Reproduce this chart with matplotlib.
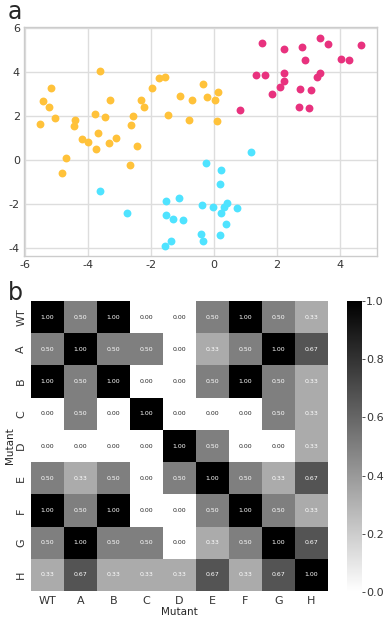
import matplotlib
matplotlib.use("Agg")
import matplotlib.pyplot as plt
import numpy as np
import seaborn as sns

# scatter clusters
yellow_x = [-5.53, -5.45, -5.24, -5.17, -5.07, -4.70, -4.83, -4.43, -4.46, -4.20, -4.00, -3.79,
            -3.70, -3.76, -3.64, -3.47, -3.32, -3.35, -3.13, -2.64, -2.56, -2.66, -2.44, -2.32,
            -2.23, -1.97, -1.74, -1.55, -1.45, -1.09, -0.80, -0.70, -0.35, -0.21, 0.02, 0.12, 0.09]
yellow_y = [1.64, 2.69, 2.40, 3.27, 1.91, 0.09, -0.61, 1.84, 1.55, 0.96, 0.84, 2.08,
            1.25, 0.50, 4.07, 1.95, 2.74, 0.78, 0.99, 1.60, 2.01, -0.24, 0.62, 2.74,
            2.43, 3.27, 3.74, 3.80, 2.05, 2.92, 1.82, 2.72, 3.45, 2.87, 2.72, 3.12, 1.78]

pink_x = [0.82, 1.33, 1.61, 1.52, 1.83, 2.11, 2.22, 2.23, 2.23, 2.71, 2.74, 2.78,
          2.90, 3.03, 3.07, 3.28, 3.37, 3.36, 3.63, 4.02, 4.28, 4.67]
pink_y = [2.28, 3.88, 3.89, 5.35, 2.99, 3.34, 3.98, 3.60, 5.05, 2.42, 3.24, 5.14,
          4.57, 2.36, 3.19, 3.77, 3.97, 5.58, 5.29, 4.62, 4.56, 5.23]

cyan_x = [-3.64, -2.78, -1.52, -1.53, -1.56, -1.36, -1.29, -1.10, -0.98, -0.39, -0.41, -0.34,
          -0.27, -0.03, 0.21, 0.18, 0.21, 0.32, 0.41, 0.37, 0.18, 0.73, 1.17]
cyan_y = [-1.40, -2.40, -1.85, -2.52, -3.91, -3.68, -2.67, -1.75, -2.74, -2.07, -3.39, -3.68,
          -0.14, -2.16, -0.44, -1.11, -2.39, -2.16, -1.96, -2.93, -3.40, -2.20, 0.35]

# heatmap (panel b)
mutants = ["WT", "A", "B", "C", "D", "E", "F", "G", "H"]
sim = [
    [1.00, 0.50, 1.00, 0.00, 0.00, 0.50, 1.00, 0.50, 0.33],
    [0.50, 1.00, 0.50, 0.50, 0.00, 0.33, 0.50, 1.00, 0.67],
    [1.00, 0.50, 1.00, 0.00, 0.00, 0.50, 1.00, 0.50, 0.33],
    [0.00, 0.50, 0.00, 1.00, 0.00, 0.00, 0.00, 0.50, 0.33],
    [0.00, 0.00, 0.00, 0.00, 1.00, 0.50, 0.00, 0.00, 0.33],
    [0.50, 0.33, 0.50, 0.00, 0.50, 1.00, 0.50, 0.33, 0.67],
    [1.00, 0.50, 1.00, 0.00, 0.00, 0.50, 1.00, 0.50, 0.33],
    [0.50, 1.00, 0.50, 0.50, 0.00, 0.33, 0.50, 1.00, 0.67],
    [0.33, 0.67, 0.33, 0.33, 0.33, 0.67, 0.33, 0.67, 1.00],
]

sns.set_style("whitegrid")
plt.rcParams['font.family'] = ['DejaVu Sans']
plt.rcParams['axes.unicode_minus'] = False

fig = plt.figure(figsize=(3.85, 6.19), dpi=100)

# ---- panel a
ax1 = fig.add_axes([0.0623, 0.586, 0.917, 0.370])
ax1.scatter(yellow_x, yellow_y, c='#ffc23a', s=32, linewidths=0)
ax1.scatter(cyan_x, cyan_y, c='#4fe3ff', s=32, linewidths=0)
ax1.scatter(pink_x, pink_y, c='#e8327e', s=32, linewidths=0)
ax1.set_xticks([-6, -4, -2, 0, 2, 4])
ax1.set_yticks([-4, -2, 0, 2, 4, 6])
ax1.tick_params(labelsize=8, colors='#333333', length=0, pad=3)
ax1.grid(color='#dddddd', linewidth=1)
for sp in ax1.spines.values():
    sp.set_color('#cccccc')
    sp.set_linewidth(1)
fig.text(0.02, 0.970, "a", fontsize=17)

# ---- panel b
ax2 = fig.add_axes([0.0805, 0.0452, 0.771, 0.4685])
cax = fig.add_axes([0.901, 0.0436, 0.039, 0.470])
sns.heatmap(np.array(sim), ax=ax2, cbar_ax=cax, cmap='gray_r', vmin=0, vmax=1,
            annot=True, fmt='.2f', annot_kws={'fontsize': 4.5},
            xticklabels=mutants, yticklabels=mutants)
ax2.set_xlabel("Mutant", fontsize=7.5, labelpad=1)
ax2.set_ylabel("Mutant", fontsize=7.5, labelpad=1)
ax2.tick_params(labelsize=8, length=0, colors='#333333')
plt.setp(ax2.get_yticklabels(), rotation=90, va='center')
plt.setp(ax2.get_xticklabels(), rotation=0)
cax.tick_params(labelsize=8, colors='#333333', length=2, width=0.6, pad=1)
cax.set_yticks([0, 0.2, 0.4, 0.6, 0.8, 1.0])
cax.set_yticklabels(['0.0', '0.2', '0.4', '0.6', '0.8', '1.0'])
fig.text(0.02, 0.515, "b", fontsize=17)

fig.savefig("out.png", dpi=100)
